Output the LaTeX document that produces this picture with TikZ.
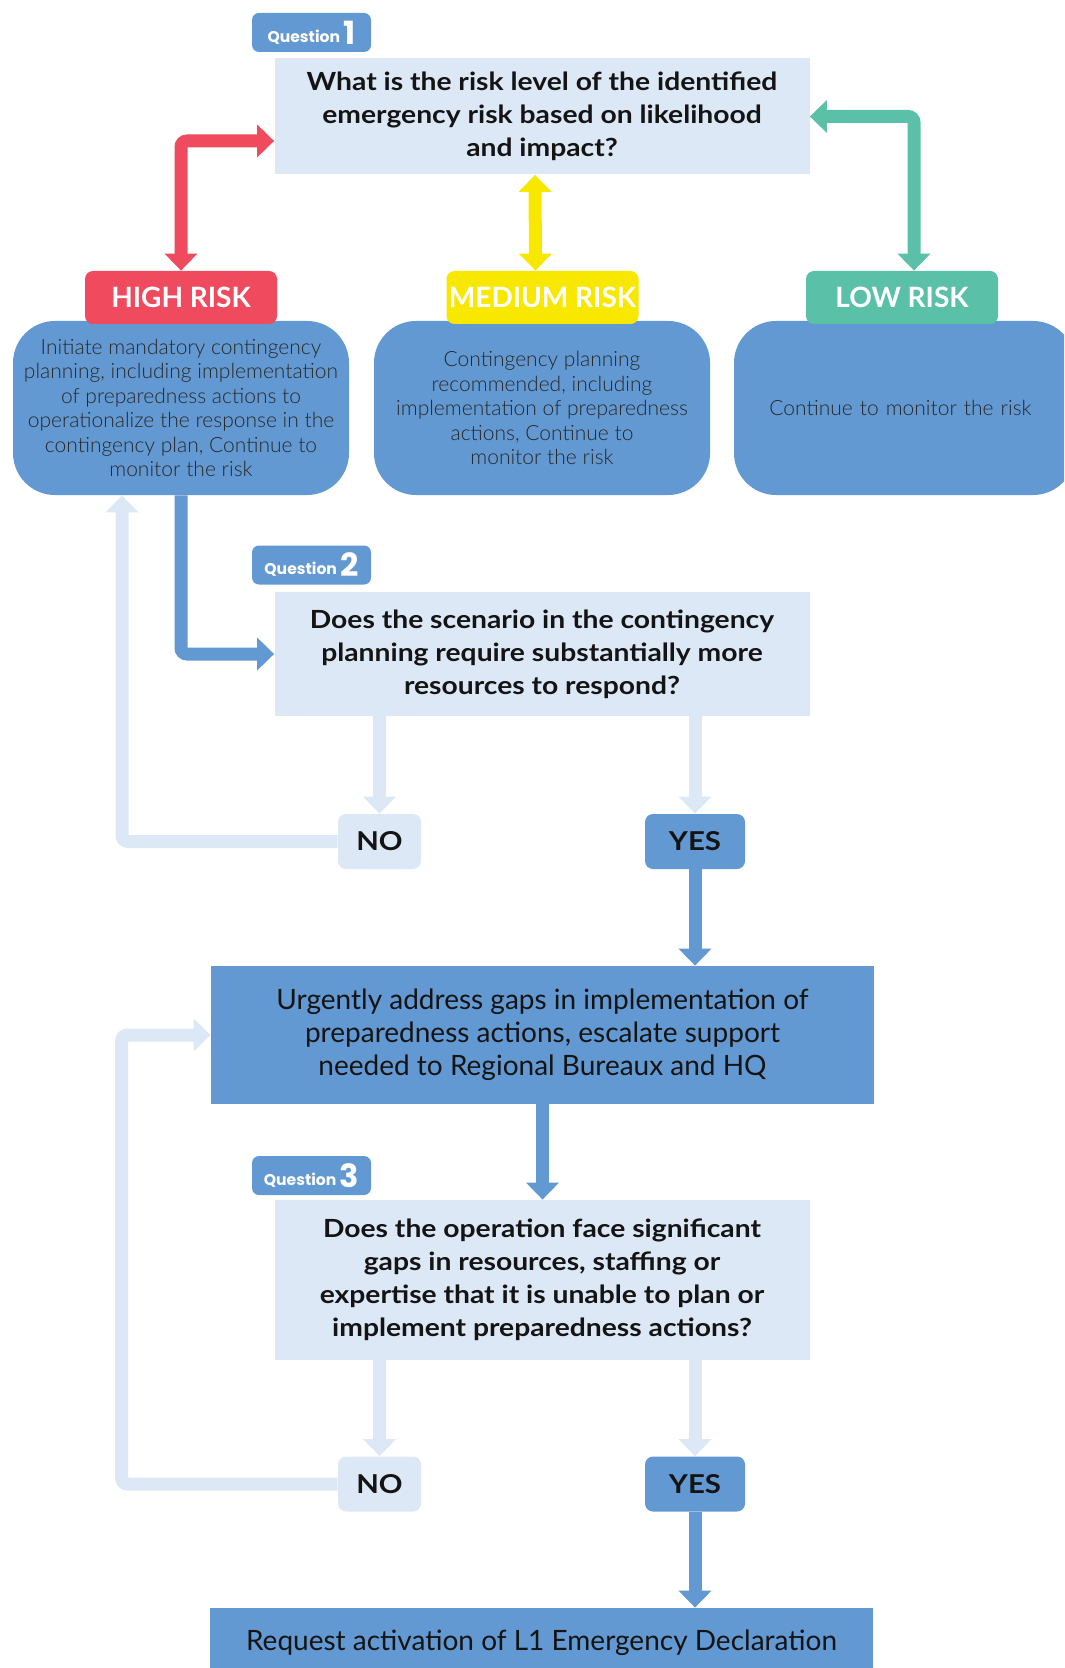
\documentclass[tikz,border=0pt]{standalone}
\usepackage{fontspec}
\setmainfont{Lato}
\newfontfamily\lightfont{Lato Light}
\newfontfamily\popfont{Poppins}
\newfontfamily\qfont{Lato}[FakeStretch=1.13]
\usetikzlibrary{arrows.meta,calc}
\definecolor{cblue}{RGB}{99,153,210}
\definecolor{clight}{RGB}{221,232,246}
\definecolor{cred}{RGB}{239,74,94}
\definecolor{cyellow}{RGB}{248,232,0}
\definecolor{cgreen}{RGB}{91,192,168}
\definecolor{ctext}{RGB}{20,20,20}
\definecolor{cbody}{RGB}{40,40,40}
\tikzset{
  qtag/.style={fill=cblue, rounded corners=3.5pt, minimum width=59.5pt, minimum height=19.5pt, inner sep=0pt, text=white, font=\popfont\bfseries},
  qbox/.style={fill=clight, minimum width=267.5pt, inner sep=0pt, align=center, text=ctext, font=\qfont\bfseries\fontsize{12.5}{16.5}\selectfont},
  risktag/.style={rounded corners=4pt, minimum width=96pt, minimum height=26.5pt, inner sep=0pt, text=white, font=\bfseries\fontsize{14}{16}\selectfont},
  riskbox/.style={fill=cblue, rounded corners=21pt, minimum height=87pt, inner sep=0pt, align=center, text=cbody, font=\lightfont\fontsize{10.5}{12.25}\selectfont},
  ansno/.style={fill=clight, rounded corners=4pt, minimum width=41.5pt, minimum height=27.5pt, inner sep=0pt, text=ctext, font=\qfont\bfseries\fontsize{13}{15}\selectfont},
  ansyes/.style={fill=cblue, rounded corners=4pt, minimum width=50pt, minimum height=27.5pt, inner sep=0pt, text=ctext, font=\qfont\bfseries\fontsize{13}{15}\selectfont},
  actbox/.style={fill=cblue, minimum width=331.5pt, inner sep=0pt, align=center, text=ctext, font=\fontsize{14}{16.5}\selectfont},
  conn/.style={line width=6.5pt, rounded corners=3pt, -{Triangle[width=16pt,length=8.5pt]}},
  biconn/.style={line width=6.5pt, rounded corners=3pt, {Triangle[width=16pt,length=8.5pt]}-{Triangle[width=16pt,length=8.5pt]}},
}
\newcommand{\qlabel}[1]{\raisebox{1pt}{\fontsize{7.8}{8}\selectfont Question}\,{\fontsize{16}{16}\selectfont #1}}
\begin{document}
\begin{tikzpicture}[x=0.5pt,y=-0.5pt]
\useasboundingbox (0,0) rectangle (1064,1668);
\clip (0,0) rectangle (1064,1668);
\fill[white] (0,0) rectangle (1064,1668);

% Question 1
\node[qtag] (t1) at (311.5,32.5) {\qlabel{1}};
\node[qbox, minimum height=58pt] (q1) at (542,116.5) {What is the risk level of the identified\\emergency risk based on likelihood\\and impact?};

% risk boxes
\node[riskbox, minimum width=168pt] (hbox) at (181,408) {Initiate mandatory contingency\\planning, including implementation\\of preparedness actions to\\operationalize the response in the\\contingency plan, Continue to\\monitor the risk};
\node[riskbox, minimum width=168pt] (mbox) at (542,408) {Contingency planning\\recommended, including\\implementation of preparedness\\actions, Continue to\\monitor the risk};
\node[riskbox, minimum width=170.5pt, text width=165pt] (lbox) at (904.5,408) {\hspace*{-4pt}Continue to monitor the risk};

\node[risktag, fill=cred] (high) at (181,297.5) {HIGH RISK};
\node[risktag, fill=cyellow] (med) at (542.5,297.5) {MEDIUM RISK};
\node[risktag, fill=cgreen] (low) at (902,297.5) {LOW RISK};

% Question 2
\node[qtag] (t2) at (311.5,565) {\qlabel{2}};
\node[qbox, minimum height=62pt] (q2) at (542,654) {Does the scenario in the contingency\\planning require substantially more\\resources to respond?};
\node[ansno] (no2) at (379.5,841.5) {NO};
\node[ansyes] (yes2) at (695,841.5) {YES};

\node[actbox, minimum height=69pt] (urgent) at (542.5,1035) {Urgently address gaps in implementation of\\preparedness actions, escalate support\\needed to Regional Bureaux and HQ};

% Question 3
\node[qtag] (t3) at (311.5,1175.5) {\qlabel{3}};
\node[qbox, minimum height=80pt] (q3) at (542,1280) {Does the operation face significant\\gaps in resources, staffing or\\expertise that it is unable to plan or\\implement preparedness actions?};
\node[ansno] (no3) at (379.5,1484) {NO};
\node[ansyes] (yes3) at (695,1484) {YES};

\node[actbox, minimum height=35pt] (final) at (541.5,1643) {Request activation of L1 Emergency Declaration};

% connectors
\draw[biconn, cred] (high.north) |- ([yshift=-12.25pt]q1.west);
\draw[biconn, cyellow] ([xshift=-3.5pt]q1.south) -- ([xshift=-3.5pt]med.north);
\draw[biconn, cgreen] ([xshift=6pt]low.north) |- (q1.east);

\draw[conn, cblue] (hbox.south) |- (q2.west);
\draw[conn, clight] (no2.west) -| ([xshift=-29.5pt]hbox.south);
\draw[conn, clight] (no2.north |- q2.south) -- (no2.north);
\draw[conn, clight] (yes2.north |- q2.south) -- (yes2.north);
\draw[conn, cblue] (yes2.south) -- (yes2.south |- urgent.north);

\draw[conn, clight] (no3.west) -| ($(urgent.west)+(-89,0)$) -- (urgent.west);
\draw[conn, cblue] (urgent.south) -- (urgent.south |- q3.north);
\draw[conn, clight] (no3.north |- q3.south) -- (no3.north);
\draw[conn, clight] (yes3.north |- q3.south) -- (yes3.north);
\draw[conn, cblue] (yes3.south) -- (yes3.south |- final.north);
\end{tikzpicture}
\end{document}
